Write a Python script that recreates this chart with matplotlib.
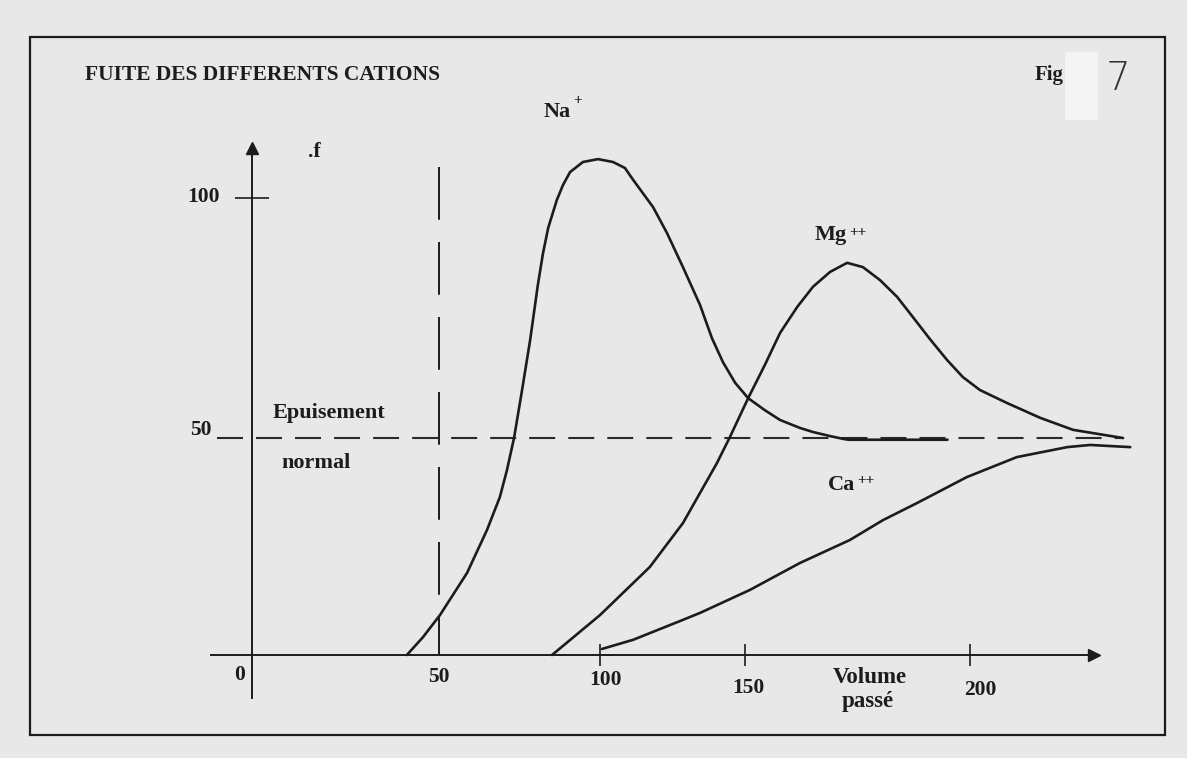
import numpy as np
import matplotlib.pyplot as plt
from matplotlib.patches import Rectangle

plt.rcParams['font.family'] = ['Liberation Serif', 'DejaVu Serif']
plt.rcParams['font.weight'] = 'bold'
plt.rcParams['lines.scale_dashes'] = False

# volume passé / fuite
na_vol = [41.4, 45.7, 50.3, 58.7, 64.9, 68.9, 71.1, 73.3, 75.8, 78.3, 80.7, 82.3, 83.9,
          86.6, 88.5, 90.7, 94.7, 99.4, 104.5, 108.6, 111.4, 118.3, 123.1, 128.6, 134.5,
          138.6, 142.4, 146.6, 150.7, 154.4, 157.8, 162.2, 165.1, 168.9, 171.8, 173.0, 195.0]
na_f = [0, 4.1, 9.2, 18.9, 28.8, 36.4, 42.6, 50.0, 60.0, 70.4, 81.9, 88.5, 93.75,
        99.6, 102.7, 105.4, 107.5, 108.1, 107.5, 106.25, 103.8, 98.1, 92.7, 85.6, 77.7,
        70.8, 65.8, 61.5, 58.3, 55.8, 53.75, 52.1, 51.25, 50.4, 49.8, 49.6, 49.6]

mg_vol = [85.1, 100.0, 117.2, 128.6, 140.3, 144.8, 150.7, 154.4, 157.8, 161.6, 165.1,
          168.9, 172.7, 176.2, 180.0, 183.8, 187.3, 191.1, 194.9, 198.4, 202.2, 208.2,
          215.6, 222.9, 234.0]
mg_f = [0, 9.2, 20.3, 30.4, 44.2, 50.2, 58.3, 65.2, 71.9, 77.3, 81.5,
        84.6, 86.5, 85.6, 82.9, 79.4, 75.2, 70.6, 66.25, 62.7, 60.0, 57.3,
        54.2, 51.7, 50.0]

ca_vol = [100.7, 111.4, 128.6, 134.5, 151.1, 162.2, 173.3, 180.7, 188.2, 199.3,
          210.4, 221.6, 226.7, 235.6]
ca_f = [1.4, 3.5, 8.1, 9.7, 15.0, 21.2, 26.5, 31.1, 35.0, 41.0,
        45.6, 47.9, 48.4, 47.9]

x_ticks = [0, 50, 100, 150, 200]
y_ticks = [50, 100]
normal_level = 50   # épuisement normal
limit_volume = 50

# the graduations of the sketch are not evenly spaced
x_grad = [-100, 0, 50, 100, 150, 200, 300]
x_dist = [-374, 0, 187, 348, 493, 718, 1168]
y_grad = [-100, 0, 50, 100, 200]
y_dist = [-434, 0, 217, 457, 937]

W, H = 1187, 758
ink = '#1c1c1c'
paper = '#e8e8e8'

fig = plt.figure(figsize=(W / 100, H / 100), dpi=100, facecolor=paper)
ax = fig.add_axes([0, 0, 1, 1])
ax.patch.set_visible(False)
ax.set_xscale('function', functions=(lambda v: np.interp(v, x_grad, x_dist),
                                     lambda p: np.interp(p, x_dist, x_grad)))
ax.set_yscale('function', functions=(lambda v: np.interp(v, y_grad, y_dist),
                                     lambda p: np.interp(p, y_dist, y_grad)))
ax.set_xlim(-67.38, 248.22)
ax.set_ylim(-23.73, 141.25)

# axes drawn like the sheet
for s in ['top', 'right']:
    ax.spines[s].set_visible(False)
ax.spines['left'].set_position(('data', 0))
ax.spines['bottom'].set_position(('data', 0))
ax.spines['left'].set_bounds(-10, 110)
ax.spines['bottom'].set_bounds(-11, 227)
for s in ['left', 'bottom']:
    ax.spines[s].set_color(ink)
    ax.spines[s].set_linewidth(1.4)
ax.plot(227.5, 0, marker='>', ms=9, color=ink, clip_on=False)
ax.plot(0, 110.5, marker='^', ms=8, color=ink, clip_on=False)
ax.set_xticks([100, 150, 200])
ax.set_yticks([100])
ax.tick_params(axis='x', direction='inout', length=16.5, width=1.2, color=ink,
               labelbottom=False)
ax.tick_params(axis='y', direction='inout', length=25, width=1.2, color=ink,
               labelleft=False)

# reference lines
ax.plot([-9.4, 234], [normal_level, normal_level], color='#2a2a2a', lw=1.5,
        dashes=(18.7, 9.4))
ax.plot([limit_volume, limit_volume], [106.5, 0], color=ink, lw=1.4,
        dashes=(38, 16))

# curves
for xs, ys in [(na_vol, na_f), (mg_vol, mg_f), (ca_vol, ca_f)]:
    ax.plot(xs, ys, color=ink, lw=1.9, solid_joinstyle='round',
            solid_capstyle='round')

# tick labels
fs = 15.5
for v, lab, dx, base in zip(x_ticks, ['0', '50', '100', '150', '200'],
                            [-12, 0, 5, 3, 10], [25, 27, 30, 38, 40]):
    ax.annotate(lab, (v, 0), xytext=(dx * 0.72, -base * 0.72), textcoords='offset points',
                ha='center', va='baseline', fontsize=fs, color=ink)
for f, lab, dx, base in zip(y_ticks, ['50', '100'], [-40, -32], [3, -4]):
    ax.annotate(lab, (0, f), xytext=(dx * 0.72, base * 0.72), textcoords='offset points',
                ha='right', va='baseline', fontsize=fs, color=ink)


def ftext(x, y, s, **kw):
    kw.setdefault('fontsize', fs)
    kw.setdefault('color', ink)
    fig.text(x / W, 1 - y / H, s, va='baseline', **kw)


ftext(870, 683, 'Volume', ha='center', fontsize=16.5)
ftext(868, 707, 'passé', ha='center', fontsize=16.5)
ftext(308, 157, '.f', ha='left')
ftext(273, 418, 'Epuisement', ha='left', fontsize=16)
ftext(281, 468, 'normal', ha='left', fontsize=16)
ftext(85, 80, 'FUITE DES DIFFERENTS CATIONS', ha='left')
ftext(1035, 80, 'Fig', ha='left', fontsize=15)
ftext(544, 117, 'Na', ha='left', fontsize=16)
ftext(573, 104, '+', ha='left', fontsize=11)
ftext(815, 240, 'Mg', ha='left', fontsize=16)
ftext(849, 236, '++', ha='left', fontsize=11)
ftext(828, 490, 'Ca', ha='left', fontsize=16)
ftext(857, 484, '++', ha='left', fontsize=11)

# frame and pasted label with the handwritten number
fig.add_artist(Rectangle((30 / W, 1 - 735 / H), 1135 / W, 698 / H, fill=False,
                         lw=1.6, edgecolor=ink, transform=fig.transFigure))
fig.add_artist(Rectangle((1065 / W, 1 - 120 / H), 33 / W, 68 / H, facecolor='#f4f4f4',
                         edgecolor='none', transform=fig.transFigure))
fig.text(1106 / W, 1 - 90 / H, '7', family='DejaVu Sans', weight='light',
         fontsize=28, color='#333333', va='baseline')

plt.savefig('out.png', dpi=100, facecolor=paper)
